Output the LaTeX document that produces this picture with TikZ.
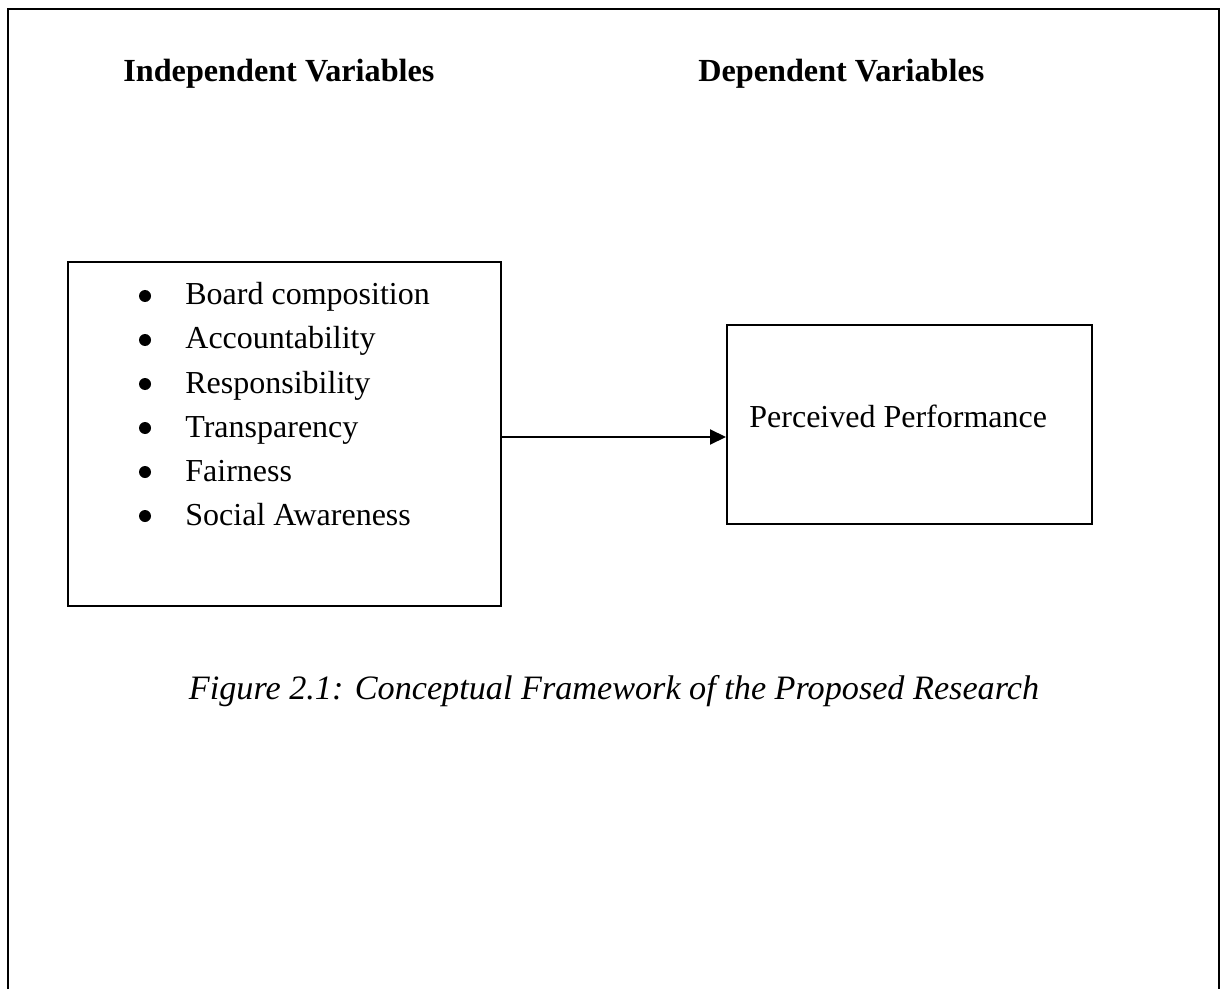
\documentclass[tikz,border=0pt]{standalone}
\usepackage{fontspec}
\setmainfont{Liberation Serif}
\usetikzlibrary{arrows.meta}
\tikzset{
  frame/.style={line width=1.4pt},
  boxline/.style={draw, line width=1pt, inner sep=0pt},
  txt/.style={inner sep=0pt, anchor=base west, font=\fontsize{16pt}{19pt}\selectfont},
  head/.style={txt, font=\fontsize{16.1pt}{19pt}\selectfont\bfseries},
  capt/.style={inner sep=0pt, anchor=base, font=\fontsize{17.1pt}{20pt}\selectfont\itshape},
  dot/.style={fill=black},
  arr/.style={line width=1pt, -{Triangle[length=8pt, width=7.5pt]}}
}
\begin{document}
\begin{tikzpicture}[x=0.5pt, y=-0.5pt]
\useasboundingbox (0,0) rectangle (1224,989);
% outer page frame (open at the bottom)
\draw[frame] (8,989) -- (8,9) -- (1219,9) -- (1219,989);
% headings
\node[head] (hind) at (123,82) {Independent Variables};
\node[head] (hdep) at (698,82) {Dependent Variables};
% boxes
\node[boxline, minimum width=216.5pt, minimum height=172pt] (left) at (284.5,434) {};
\node[boxline, minimum width=182.5pt, minimum height=99.5pt] (right) at (909.5,424.5) {};
% list
\foreach \y/\t [count=\i] in {305/Board composition, 349/Accountability, 393/Responsibility, 437/Transparency, 481/Fairness, 525/Social Awareness}{
  \fill[dot] (145,\y-9) circle (3pt);
  \node[txt] (item\i) at (185,\y) {\t};
}
\node[txt] (pp) at (749,427) {Perceived Performance};
% connector
\draw[arr] (left.east) ++(0,3) coordinate (a1) -- (a1 -| right.west);
% caption
\node[capt] (cap) at (614,699) {Figure 2.1: Conceptual Framework of the Proposed Research};
\end{tikzpicture}
\end{document}
